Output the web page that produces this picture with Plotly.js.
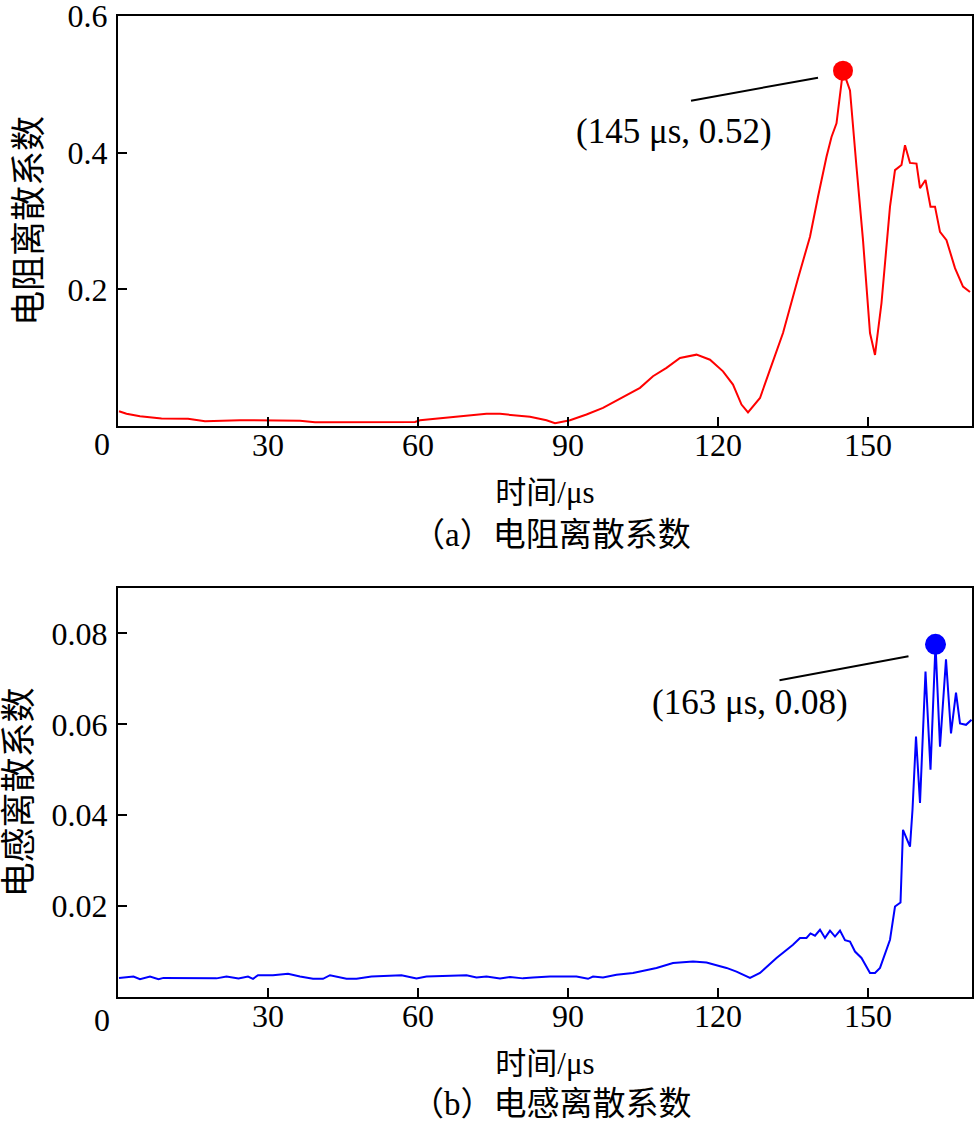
<!DOCTYPE html>
<html>
<head>
<meta charset="utf-8">
<script src="https://cdn.plot.ly/plotly-3.0.1.min.js"></script>
<style>html,body{margin:0;padding:0;background:#fff;}#chart{width:976px;height:1127px;}</style>
</head>
<body>
<div id="chart"></div>
<script>
// ---- data: (a) resistance dispersion coefficient ----
const timeR = [0.2,1.7,4.4,8.7,14,17.4,24.4,36.4,39.4,49.7,59.4,60.4,66.4,73.7,76.4,82.4,85.7,87.4,90.4,93.7,97,100.7,104.4,107,109.7,112.4,115.7,118.4,121,123,124.7,126,128.4,130.4,133,136,138.4,140,141.7,142.7,143.7,145,146.4,147.7,149,150.4,151.4,152.7,154.4,155.4,156.7,157.4,158.4,159.7,160.4,161.5,162.5,163.4,164.4,165.7,167.4,169,170.4];
const resistR = [0.0216,0.018,0.0143,0.011,0.0105,0.007,0.0085,0.0076,0.0056,0.0056,0.006,0.0085,0.0129,0.0178,0.0178,0.0134,0.0085,0.004,0.0085,0.0168,0.0266,0.041,0.0558,0.0728,0.085,0.0996,0.1044,0.097,0.08,0.0606,0.0314,0.020,0.041,0.0825,0.136,0.216,0.277,0.3355,0.394,0.423,0.443,0.52,0.491,0.379,0.272,0.136,0.104,0.18,0.321,0.3745,0.382,0.411,0.385,0.384,0.348,0.36,0.321,0.321,0.284,0.272,0.231,0.204,0.196];
const peakRX = [145];
const peakRY = [0.52];
const peakRLabel = ["(145 μs, 0.52)"];

// ---- data: (b) inductance dispersion coefficient ----
const timeL = [0.2,1.7,3.1,4.4,6.4,8.1,9.1,19.7,21.7,24.1,26,27,28,31,34,36.4,39,41,42.4,45.7,47.7,50.7,56.7,59.7,61.7,69.7,71.7,73.7,76.4,78.4,81,83,86.4,91.7,94,95,97,99.7,103,107.7,111,115,117.7,121.7,123.7,126.4,128.4,131.7,135,136.4,137.7,138.5,139.4,140.4,141.4,142.4,143.4,144.4,145.4,146.4,147.4,148.7,150.4,151.4,152.4,154.4,155.4,156.5,157,158.4,158.9,159.6,160.4,161.5,162.5,163.5,164.4,165.6,166.6,167.6,168.4,169.6,170.7];
const inductL = [0.0042,0.0044,0.0045,0.0039,0.0045,0.0039,0.0042,0.0041,0.0045,0.0041,0.0045,0.004,0.0048,0.0048,0.0051,0.0045,0.004,0.004,0.0048,0.004,0.004,0.0045,0.0048,0.0041,0.0045,0.0048,0.0043,0.0045,0.0041,0.0044,0.0041,0.0043,0.0045,0.0045,0.004,0.0045,0.0043,0.0049,0.0053,0.0064,0.0075,0.0078,0.0076,0.0064,0.0056,0.0042,0.0053,0.0086,0.0115,0.013,0.013,0.014,0.0135,0.0148,0.013,0.0146,0.0133,0.0146,0.0125,0.0122,0.01,0.0086,0.0053,0.0053,0.0064,0.0126,0.0199,0.0208,0.0368,0.0331,0.0412,0.0573,0.0427,0.0716,0.05,0.0776,0.0551,0.0743,0.058,0.067,0.0602,0.0599,0.061];
const peakLX = [163.5];
const peakLY = [0.0776];
const peakLLabel = ["(163 μs, 0.08)"];

// ---- ticks & labels ----
const xTicks = [30,60,90,120,150];
const xTickText = ["30","60","90","120","150"];
const yTicksR = [0.2,0.4,0.6];
const yTickTextR = ["0.2","0.4","0.6"];
const yTicksL = [0.02,0.04,0.06,0.08];
const yTickTextL = ["0.02","0.04","0.06","0.08"];
const xTitle = "时间/μs";
const yTitleR = "电阻离散系数";
const yTitleL = "电感离散系数";
const captionR = "（a）电阻离散系数";
const captionL = "（b）电感离散系数";

const W = 976, H = 1127;
const FONT = '"Liberation Serif", "Times New Roman", "Noto Sans CJK SC", serif';
const CJK = '"Liberation Serif", "Noto Sans CJK SC", serif';
const xDom = [118 / W, 972 / W];
const yDomR = [1 - 426 / H, 1 - 16 / H];
const yDomL = [1 - 997 / H, 1 - 588 / H];

const traces = [
  {x: timeR, y: resistR, xaxis: 'x', yaxis: 'y', mode: 'lines', line: {color: '#ff0000', width: 2}, hoverinfo: 'skip', showlegend: false},
  {x: peakRX, y: peakRY, xaxis: 'x', yaxis: 'y', mode: 'markers', marker: {color: '#ff0000', size: 20}, showlegend: false},
  {x: timeL, y: inductL, xaxis: 'x2', yaxis: 'y2', mode: 'lines', line: {color: '#0000ff', width: 2}, hoverinfo: 'skip', showlegend: false},
  {x: peakLX, y: peakLY, xaxis: 'x2', yaxis: 'y2', mode: 'markers', marker: {color: '#0000ff', size: 21}, showlegend: false}
];

function xAxis(anchor) {
  return {
    domain: xDom, anchor: anchor, range: [0, 170.8],
    tickvals: xTicks, ticktext: xTickText,
    ticks: 'inside', ticklen: 9, tickwidth: 2, tickcolor: '#000',
    showline: true, linecolor: '#000', linewidth: 2, mirror: true,
    showgrid: false, zeroline: false,
    tickfont: {family: FONT, size: 32, color: '#000'},
    ticklabelstandoff: -10, ticklabeloverflow: 'allow',
    title: {text: xTitle, font: {family: CJK, size: 31, color: '#000'}, standoff: 19},
    automargin: false, fixedrange: true
  };
}
function yAxis(anchor, dom, range, tv, tt, title, standoff) {
  return {
    domain: dom, anchor: anchor, range: range,
    tickvals: tv, ticktext: tt,
    ticks: 'inside', ticklen: 9, tickwidth: 2, tickcolor: '#000',
    showline: true, linecolor: '#000', linewidth: 2, mirror: true,
    showgrid: false, zeroline: false,
    tickfont: {family: FONT, size: 32, color: '#000'},
    ticklabelstandoff: 2, ticklabeloverflow: 'allow',
    title: {text: title, font: {family: CJK, size: 35, color: '#000'}, standoff: standoff},
    automargin: false, fixedrange: true
  };
}

const layout = {
  width: W, height: H,
  margin: {l: 0, r: 0, t: 0, b: 0},
  paper_bgcolor: '#fff', plot_bgcolor: '#fff',
  showlegend: false,
  xaxis: xAxis('y'),
  yaxis: yAxis('x', yDomR, [0, 0.6], yTicksR, yTickTextR, yTitleR, 15),
  xaxis2: xAxis('y2'),
  yaxis2: yAxis('x2', yDomL, [0, 0.09], yTicksL, yTickTextL, yTitleL, 9),
  shapes: [
    {type: 'line', xref: 'x', yref: 'y', xsizemode: 'pixel', ysizemode: 'pixel',
     xanchor: peakRX[0], yanchor: peakRY[0], x0: -152, y0: -30, x1: -25, y1: -7,
     line: {color: '#000', width: 2}},
    {type: 'line', xref: 'x2', yref: 'y2', xsizemode: 'pixel', ysizemode: 'pixel',
     xanchor: peakLX[0], yanchor: peakLY[0], x0: -156, y0: -36, x1: -27, y1: -12,
     line: {color: '#000', width: 2}}
  ],
  annotations: [
    {x: peakRX[0], y: peakRY[0], xref: 'x', yref: 'y', text: peakRLabel[0], showarrow: false,
     xshift: -169, yshift: -61, font: {family: FONT, size: 35, color: '#000'}},
    {x: peakLX[0], y: peakLY[0], xref: 'x2', yref: 'y2', text: peakLLabel[0], showarrow: false,
     xshift: -186, yshift: -58, font: {family: FONT, size: 35, color: '#000'}},
    {x: 0, y: yDomR[0], xref: 'x', yref: 'paper', xanchor: 'center', yanchor: 'top', text: '0', showarrow: false,
     xshift: -16, yshift: 2, font: {family: FONT, size: 32, color: '#000'}},
    {x: 0, y: yDomL[0], xref: 'x2', yref: 'paper', xanchor: 'center', yanchor: 'top', text: '0', showarrow: false,
     xshift: -16, yshift: -3, font: {family: FONT, size: 32, color: '#000'}},
    {x: 551 / W, y: 1 - 535 / H, xref: 'paper', yref: 'paper', xanchor: 'center', yanchor: 'middle', text: captionR, showarrow: false,
     font: {family: CJK, size: 33, color: '#000'}},
    {x: 551 / W, y: 1 - 1104 / H, xref: 'paper', yref: 'paper', xanchor: 'center', yanchor: 'middle', text: captionL, showarrow: false,
     font: {family: CJK, size: 33, color: '#000'}}
  ]
};

Plotly.newPlot('chart', traces, layout, {displayModeBar: false, staticPlot: true});
</script>
</body>
</html>
